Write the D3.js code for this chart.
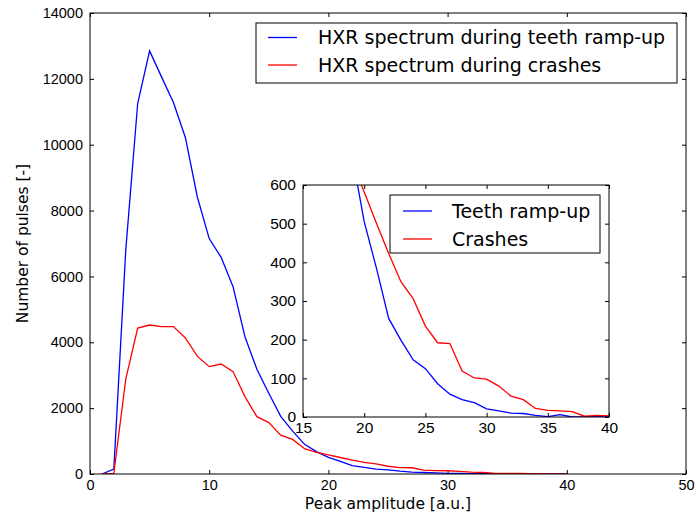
<!DOCTYPE html>
<html>
<head>
<meta charset="utf-8">
<script src="https://cdn.jsdelivr.net/npm/d3@7"></script>
<style>
  body { margin: 0; background: #fff; }
  svg { display: block; font-family: "DejaVu Sans", sans-serif; }
  .tick line { stroke: #000; }
  .domain { display: none; }
</style>
</head>
<body>
<svg id="chart" width="696" height="515"></svg>
<script>
// peak amplitude bins
var amplitude = d3.range(1, 41);

// HXR spectrum during teeth ramp-up (blue)
var rampUp = [0, 150, 6800, 11250, 12850, 12060, 11280, 10220, 8420, 7150,
              6580, 5690, 4170, 3180, 2450, 1750, 1300, 900, 680, 505,
              385, 255, 199, 148, 125, 86, 59, 45, 37, 21,
              16, 10, 9, 4, 1, 6, 0, 0, 1, 0];

// HXR spectrum during crashes (red)
var crashes = [0, 20, 2880, 4430, 4525, 4475, 4475, 4130, 3580, 3260,
               3340, 3110, 2350, 1740, 1560, 1180, 1050, 770, 660, 582,
               501, 423, 350, 306, 235, 192, 190, 119, 101, 98,
               80, 54, 45, 22, 17, 16, 14, 2, 4, 3];

var mainXTicks = [0, 10, 20, 30, 40, 50];
var mainYTicks = [0, 2000, 4000, 6000, 8000, 10000, 12000, 14000];
var insetXTicks = [15, 20, 25, 30, 35, 40];
var insetYTicks = [0, 100, 200, 300, 400, 500, 600];

var mainLegend = ['HXR spectrum during teeth ramp-up', 'HXR spectrum during crashes'];
var insetLegend = ['Teeth ramp-up', 'Crashes'];
var colors = ['#0000ff', '#ff0000'];

var svg = d3.select('#chart');

// draws a framed axes box with inward ticks on all four sides
function drawAxes(g, x, y, xTicks, yTicks, fontSize, xPad, yPad) {
  var w = x.range()[1] - x.range()[0];
  var h = y.range()[0] - y.range()[1];

  g.append('rect')
    .attr('x', x.range()[0]).attr('y', y.range()[1])
    .attr('width', w).attr('height', h)
    .attr('fill', '#fff');

  var bottom = g.append('g')
    .attr('transform', 'translate(0,' + y.range()[0] + ')')
    .call(d3.axisBottom(x).tickValues(xTicks).tickSize(-4).tickPadding(xPad).tickFormat(d3.format('d')));
  bottom.selectAll('text').attr('font-size', fontSize).attr('fill', '#000');

  g.append('g')
    .attr('transform', 'translate(0,' + y.range()[1] + ')')
    .call(d3.axisTop(x).tickValues(xTicks).tickSize(-4).tickFormat(''));

  var left = g.append('g')
    .attr('transform', 'translate(' + x.range()[0] + ',0)')
    .call(d3.axisLeft(y).tickValues(yTicks).tickSize(-4).tickPadding(yPad).tickFormat(d3.format('d')));
  left.selectAll('text').attr('font-size', fontSize).attr('fill', '#000');

  g.append('g')
    .attr('transform', 'translate(' + x.range()[1] + ',0)')
    .call(d3.axisRight(y).tickValues(yTicks).tickSize(-4).tickFormat(''));

  g.selectAll('.tick line').attr('stroke', '#000').attr('stroke-width', 1);
}

function drawLines(g, x, y, clipId) {
  var line = d3.line()
    .x(function(d) { return x(d[0]); })
    .y(function(d) { return y(d[1]); });

  g.append('clipPath').attr('id', clipId)
    .append('rect')
    .attr('x', x.range()[0]).attr('y', y.range()[1])
    .attr('width', x.range()[1] - x.range()[0])
    .attr('height', y.range()[0] - y.range()[1]);

  [rampUp, crashes].forEach(function(series, i) {
    g.append('path')
      .datum(d3.zip(amplitude, series))
      .attr('clip-path', 'url(#' + clipId + ')')
      .attr('fill', 'none')
      .attr('stroke', colors[i])
      .attr('stroke-width', 1.3)
      .attr('d', line);
  });
}

function drawFrame(g, x, y) {
  g.append('rect')
    .attr('x', x.range()[0]).attr('y', y.range()[1])
    .attr('width', x.range()[1] - x.range()[0])
    .attr('height', y.range()[0] - y.range()[1])
    .attr('fill', 'none').attr('stroke', '#000').attr('stroke-width', 1);
}

function drawLegend(g, box, labels, lineX, textX, rowY, fontSize) {
  g.append('rect')
    .attr('x', box[0]).attr('y', box[1])
    .attr('width', box[2]).attr('height', box[3])
    .attr('fill', '#fff').attr('stroke', '#000').attr('stroke-width', 1);
  labels.forEach(function(label, i) {
    g.append('line')
      .attr('x1', lineX[0]).attr('x2', lineX[1])
      .attr('y1', rowY[i]).attr('y2', rowY[i])
      .attr('stroke', colors[i]).attr('stroke-width', 1.3);
    g.append('text')
      .attr('x', textX).attr('y', rowY[i])
      .attr('dy', '0.36em')
      .attr('font-size', fontSize)
      .text(label);
  });
}

// main axes
var x = d3.scaleLinear().domain([0, 50]).range([90, 686]);
var y = d3.scaleLinear().domain([0, 14000]).range([474, 13]);
var main = svg.append('g');
drawAxes(main, x, y, mainXTicks, mainYTicks, '14.5px', 6, 7);
drawLines(main, x, y, 'clip-main');
drawFrame(main, x, y);
drawLegend(main, [256, 23, 421, 60], mainLegend, [268, 297], 318, [37.5, 65], '19px');

main.append('text')
  .attr('x', (x.range()[0] + x.range()[1]) / 2).attr('y', 509)
  .attr('text-anchor', 'middle').attr('font-size', '15.5px')
  .text('Peak amplitude [a.u.]');

main.append('text')
  .attr('transform', 'translate(28,' + ((y.range()[0] + y.range()[1]) / 2) + ') rotate(-90)')
  .attr('text-anchor', 'middle').attr('font-size', '15.5px')
  .text('Number of pulses [-]');

// inset axes
var xi = d3.scaleLinear().domain([15, 40]).range([303, 609]);
var yi = d3.scaleLinear().domain([0, 600]).range([417, 185]);
var inset = svg.append('g');
drawAxes(inset, xi, yi, insetXTicks, insetYTicks, '15.5px', 5, 7);
drawLines(inset, xi, yi, 'clip-inset');
drawFrame(inset, xi, yi);
drawLegend(inset, [390, 195, 210, 58], insetLegend, [403, 432], 452, [211, 239], '19px');
</script>
</body>
</html>
